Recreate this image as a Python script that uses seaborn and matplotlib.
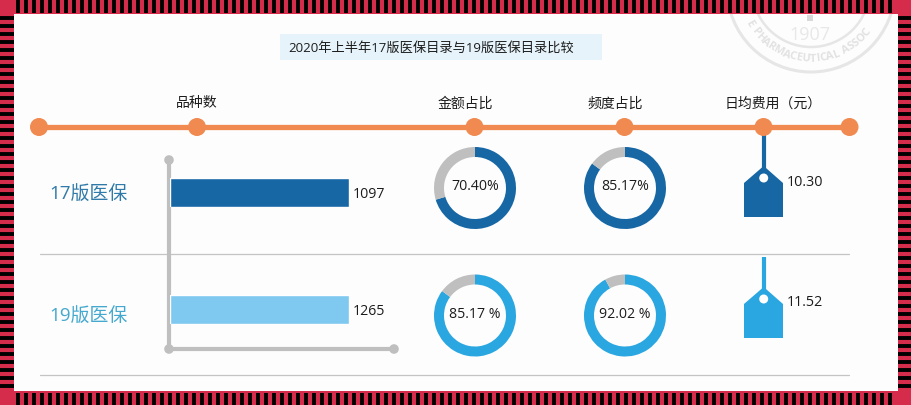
import numpy as np
import matplotlib
matplotlib.use('Agg')
import matplotlib.pyplot as plt
from matplotlib.patches import Circle, Polygon, Rectangle
import seaborn as sns

# values
editions = ['17版医保', '19版医保']
variety_counts = [1097, 1265]
amount_shares = [70.40, 85.17]
frequency_shares = [85.17, 92.02]
amount_labels = ['70.40%', '85.17 %']
frequency_labels = ['85.17%', '92.02 %']
daily_costs = ['10.30', '11.52']
headers = ['品种数', '金额占比', '频度占比', '日均费用（元）']
chart_title = '2020年上半年17版医保目录与19版医保目录比较'

W, H = 912, 405
DARK = '#1767a5'
LIGHT = '#2aa6e0'
BAR_LIGHT = '#7fc8ef'
GREY = '#bfbfbf'
ORANGE = '#f08a50'
RED = '#d62c4b'
TEXT = '#1c1c1c'

sns.set_style('white')
plt.rcParams['font.family'] = ['Open Sans', 'Noto Sans CJK SC']

fig = plt.figure(figsize=(W / 100, H / 100), dpi=100, facecolor='#fdfdfd')
bg = fig.add_axes([0, 0, 1, 1])
bg.set_xlim(0, W)
bg.set_ylim(H, 0)
bg.axis('off')


def pixel_axes(x0, y0, x1, y1):
    ax = fig.add_axes([x0 / W, 1 - y1 / H, (x1 - x0) / W, (y1 - y0) / H])
    ax.patch.set_alpha(0)
    return ax


# stamp in the top right corner, letters spaced by their real width
sx, sy = 811, -12
for r, lw in [(84, 2.2), (59, 1.8)]:
    bg.add_patch(Circle((sx, sy), r, fill=False, ec='#e6e6e6', lw=lw))
stamp_text = 'E PHARMACEUTICAL ASSOC'
renderer = fig.canvas.get_renderer()
widths = []
for ch in stamp_text:
    probe = bg.text(0, 0, ch if ch != ' ' else 'I', fontsize=8, fontweight='bold')
    widths.append(probe.get_window_extent(renderer).width + 1.2)
    probe.remove()
mids = np.cumsum(widths) - np.array(widths) / 2
degs = -62 + np.degrees(mids / 71) * 116 / np.degrees(sum(widths) / 71)
for ch, deg in zip(stamp_text, degs):
    t = np.radians(deg)
    bg.text(sx + 71 * np.sin(t), sy + 71 * np.cos(t), ch, rotation=deg, color='#e2e2e2',
            fontsize=8, ha='center', va='center', rotation_mode='anchor', fontweight='bold')
bg.text(810, 35, '1907', color='#e8e8e8', fontsize=13, ha='center', va='center')
bg.add_patch(Rectangle((807, 15), 6, 6, color='#d8d8d8', lw=0))

# striped border
for x0, y0, w, h in [(0, 0, W, 14), (0, 391, W, 14), (0, 0, 14, H), (898, 0, 14, H)]:
    bg.add_patch(Rectangle((x0, y0), w, h, color=RED, lw=0, zorder=5))
xs = np.arange(16, 896, 8)
ys = np.arange(16, 390, 8)
bg.vlines(xs + 1.8, 0, 12.7, color='black', lw=2.8, zorder=6)
bg.vlines(xs + 1.8, 393, 405, color='black', lw=2.8, zorder=6)
bg.hlines(ys + 1.8, 0, 14, color='black', lw=2.8, zorder=6)
bg.hlines(ys + 1.8, 898, 912, color='black', lw=2.8, zorder=6)

# title
bg.add_patch(Rectangle((280, 34), 322, 26, color='#e6f3fb', lw=0))
bg.text(431, 48, chart_title, color=TEXT, fontsize=9.5, ha='center', va='center')

# timeline with headers
bg.plot([39, 849], [127, 127], color=ORANGE, lw=3.8, solid_capstyle='butt', zorder=3)
for x in [39, 197, 474.5, 624.5, 763.5, 849.5]:
    bg.add_patch(Circle((x, 127), 9, color=ORANGE, lw=0, zorder=4))
for x, label, ha in zip([197, 465, 615.5, 725], headers, ['center', 'center', 'center', 'left']):
    bg.text(x, 104, label, color=TEXT, fontsize=10, ha=ha, va='center')

# separators
for y in [254, 374.5]:
    bg.plot([40, 849], [y, y], color='#c4c4c4', lw=0.9)

# grey axis of the bars
bg.plot([169, 169], [160, 349], color=GREY, lw=3, solid_capstyle='butt')
bg.plot([169, 394], [349, 349], color=GREY, lw=3, solid_capstyle='butt')
for x, y in [(169, 160), (169, 349), (394, 349)]:
    bg.add_patch(Circle((x, y), 4.8, color=GREY, lw=0))

rows = [
    dict(bar=(178, 207), bar_color=DARK, ring=DARK, cy=188, name_y=195, name_color='#2f7aa9',
         count_y=194.5, cost_y=183, tag_top=127, apex=166, hole=178, label_y=187),
    dict(bar=(295, 324), bar_color=BAR_LIGHT, ring=LIGHT, cy=315.5, name_y=317, name_color='#45a9cf',
         count_y=311.5, cost_y=303, tag_top=257, apex=287, hole=299, label_y=314.5),
]

for i, row in enumerate(rows):
    bg.text(49, row['name_y'], editions[i], color=row['name_color'], fontsize=13.6, ha='left', va='center')

    # each bar fills its own panel, both are the same length in the picture
    ax = pixel_axes(170, row['bar'][0], 349, row['bar'][1])
    sns.barplot(x=[variety_counts[i]], y=[editions[i]], color=row['bar_color'], saturation=1,
                width=1, ax=ax)
    ax.set_xlim(0, variety_counts[i])
    ax.set_ylim(0.5, -0.5)
    ax.axis('off')
    bg.text(353, row['count_y'], str(variety_counts[i]), color=TEXT, fontsize=10.2, ha='left', va='center')

    # rings
    for cx, share, label in [(475, amount_shares[i], amount_labels[i]),
                             (625, frequency_shares[i], frequency_labels[i])]:
        ax = pixel_axes(cx - 41, row['cy'] - 41, cx + 41, row['cy'] + 41)
        ax.pie([share, 100 - share], colors=[row['ring'], GREY], startangle=90, counterclock=False,
               radius=1, wedgeprops=dict(width=10 / 41, lw=0))
        ax.set_xlim(-1, 1)
        ax.set_ylim(-1, 1)
        bg.text(cx, row['label_y'], label, color=TEXT, fontsize=10.2, ha='center', va='center', zorder=2)

    # price tag
    apex = row['apex']
    bg.plot([763.7, 763.7], [row['tag_top'], apex + 4], color=row['ring'], lw=3, solid_capstyle='butt', zorder=2)
    bg.add_patch(Polygon([(763.7, apex), (783, apex + 17), (783, apex + 51), (744, apex + 51), (744, apex + 17)],
                         closed=True, color=row['ring'], lw=0, zorder=2))
    bg.add_patch(Circle((763.7, row['hole']), 4.5, color='white', lw=0, zorder=3))
    bg.text(786.5, row['cost_y'], daily_costs[i], color=TEXT, fontsize=10.4, ha='left', va='center')

fig.savefig('out.png', dpi=100, facecolor=fig.get_facecolor())
